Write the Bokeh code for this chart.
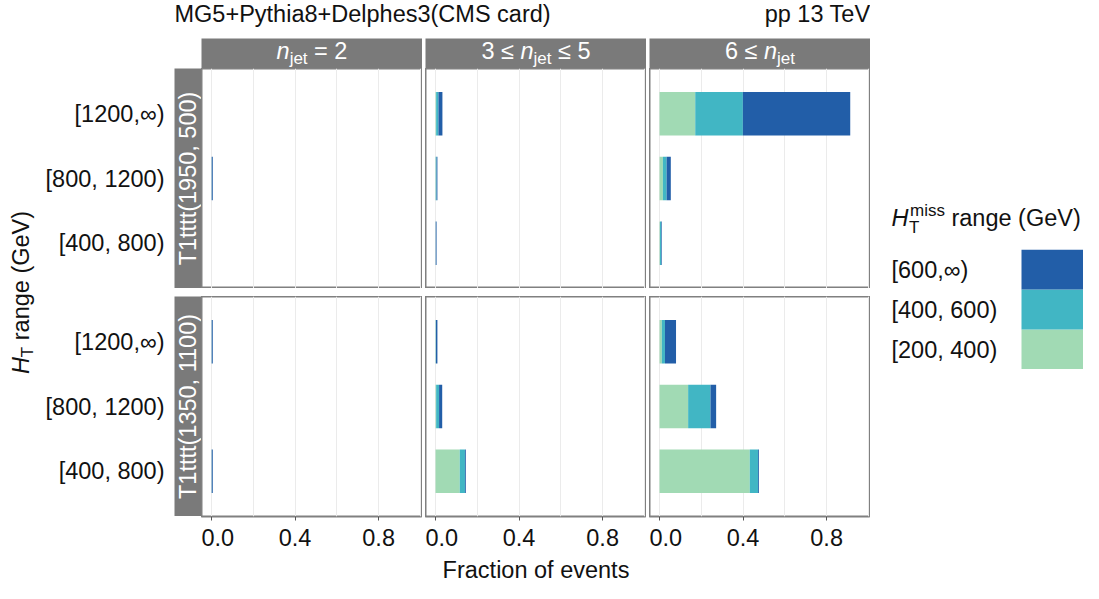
import math
from bokeh.plotting import figure
from bokeh.layouts import row, column
from bokeh.models import (FactorRange, Range1d, FixedTicker, Label, Spacer,
                          ColumnDataSource, NumeralTickFormatter)
from bokeh.core.properties import value
from bokeh.embed import file_html
from bokeh.resources import INLINE

# ---------------- data ----------------
ht_bins = ["[400, 800)", "[800, 1200)", "[1200,∞)"]          # y categories (bottom -> top)
mht_bins = ["[200, 400)", "[400, 600)", "[600,∞)"]           # stacked series
mht_colors = ["#A1DAB4", "#41B6C4", "#225EA8"]
models = ["T1tttt(1950, 500)", "T1tttt(1350, 1100)"]
njet_strips = [
    [("n", "ital"), ("jet", "sub"), (" = 2", "norm")],
    [("3 ≤ ", "norm"), ("n", "ital"), ("jet", "sub"), (" ≤ 5", "norm")],
    [("6 ≤ ", "norm"), ("n", "ital"), ("jet", "sub")],
]
x_ticks = [0.0, 0.4, 0.8]
x_minor = [0.2, 0.6, 1.0]

# fraction of events; rows = HTmiss bins (mht_bins), cols = HT bins (ht_bins)
m1950_nj2 = [[0.0, 0.0005, 0.0], [0.0, 0.0005, 0.0], [0.0, 0.005, 0.0]]
m1950_nj35 = [[0.0005, 0.001, 0.003], [0.0005, 0.004, 0.011], [0.004, 0.004, 0.019]]
m1950_nj6 = [[0.002, 0.016, 0.171], [0.006, 0.018, 0.228], [0.003, 0.020, 0.514]]
m1350_nj2 = [[0.0005, 0.0, 0.0005], [0.0005, 0.0, 0.0005], [0.005, 0.0, 0.005]]
m1350_nj35 = [[0.116, 0.003, 0.001], [0.025, 0.014, 0.001], [0.004, 0.015, 0.007]]
m1350_nj6 = [[0.432, 0.137, 0.011], [0.040, 0.107, 0.015], [0.004, 0.027, 0.053]]

fractions = [[m1950_nj2, m1950_nj35, m1950_nj6],
             [m1350_nj2, m1350_nj35, m1350_nj6]]

# ---------------- style / layout constants ----------------
FONT = "Liberation Sans"
FS = 23.5
FS_SUB = 17
MID = 0.3465               # baseline offset of a "middle"-anchored text, in em
TXT = "#111111"
STRIP_FILL = "#7A7A7A"
BORDER = "#808080"
GRID = "#EBEBEB"
PW, PH = 221, 220          # panel frame size
GAP = 3                    # gap between panels
ROWGAP = 8
SH = 30                    # strip height
HEAD_H = 38
AXW = 137                  # space for y tick labels
RSW = 27                   # row strip width
YT_W = 37
XAX_H = 40                 # room below the bottom panels for the tick labels
XT_H = 27
BAR_H = 0.67
X_RANGE = (-0.048, 1.01)

CW = {' ': 278, '.': 278, ',': 278, '(': 333, ')': 333, '[': 278, ']': 278,
      '+': 584, '=': 584, '≤': 549, '∞': 713, 'C': 722, 'D': 722, 'F': 611,
      'G': 778, 'H': 722, 'M': 833, 'P': 667, 'S': 667, 'T': 611, 'V': 667,
      'a': 556, 'c': 500, 'd': 556, 'e': 556, 'f': 278, 'g': 556, 'h': 556,
      'i': 222, 'j': 222, 'l': 222, 'm': 833, 'n': 556, 'o': 556, 'p': 556,
      'r': 333, 's': 500, 't': 278, 'v': 500, 'y': 500}


def tw(s, size):
    return sum(CW.get(c, 556) for c in s) * size / 1000.0


def psize(style):
    return FS_SUB if style in ("sub", "sup") else FS


def blank_fig(w, h, fill="white"):
    f = figure(width=w, height=h, x_range=Range1d(0, w), y_range=Range1d(0, h),
               x_axis_location=None, y_axis_location=None, min_border=0,
               toolbar_location=None, output_backend="svg",
               background_fill_color=fill, border_fill_color="white",
               outline_line_color=None)
    f.grid.visible = False
    return f


def lab(f, x, y, text, size=FS, style="normal", color=TXT, align="left", angle=0.0):
    """Place text so that its alphabetic baseline sits at y (x for rotated text)."""
    if angle == 0.0:
        y = y + MID * size
    else:
        x = x - MID * size
    f.add_layout(Label(x=x, y=y, text=text, text_font=FONT,
                       text_font_size=f"{size}px", text_font_style=style,
                       text_color=color, text_align=align,
                       text_baseline="middle", angle=angle))


def draw_pieces(f, pieces, start, base, color, rotated=False, sub_shift=5, sup_shift=10):
    pos = start
    for t, s in pieces:
        size = psize(s)
        lead = len(t) - len(t.lstrip())
        txt = t.strip()
        off = tw(t[:lead], size)
        shift = -sub_shift if s == "sub" else (sup_shift if s == "sup" else 0)
        style = "italic" if s == "ital" else "normal"
        if rotated:
            lab(f, base - shift, pos + off, txt, size, style, color, angle=math.pi / 2)
        else:
            lab(f, pos + off, base + shift, txt, size, style, color)
        pos += tw(t, size)
    return pos


MW = AXW + RSW + 3 * PW + 2 * GAP
LW = YT_W + MW

# ---------------- header ----------------
header = blank_fig(LW, HEAD_H)
lab(header, YT_W + AXW, HEAD_H - 22, "MG5+Pythia8+Delphes3(CMS card)")
lab(header, LW, HEAD_H - 22, "pp 13 TeV", align="right")

# ---------------- column strips ----------------
strip_children = [Spacer(width=AXW + RSW, height=SH)]
for j, pieces in enumerate(njet_strips):
    sf = blank_fig(PW, SH, STRIP_FILL)
    total = sum(tw(t, psize(s)) for t, s in pieces)
    draw_pieces(sf, pieces, PW / 2 - total / 2, 9, "white")
    if j > 0:
        strip_children.append(Spacer(width=GAP, height=SH))
    strip_children.append(sf)
strip_row = row(*strip_children)

# ---------------- panels ----------------
panel_rows = []
for i, model in enumerate(models):
    yr = FactorRange(factors=ht_bins, range_padding=0.2, range_padding_units="absolute")
    bottom = (i == len(models) - 1)

    ax = figure(frame_width=RSW, frame_height=PH, x_range=Range1d(0, 1), y_range=yr,
                x_axis_location=None, y_axis_location="left",
                min_border=0, min_border_left=AXW, toolbar_location=None,
                output_backend="svg", background_fill_color=STRIP_FILL,
                border_fill_color="white", outline_line_color=None)
    ax.grid.visible = False
    ax.yaxis.axis_line_color = None
    ax.yaxis.major_tick_line_color = None
    ax.yaxis.minor_tick_line_color = None
    ax.yaxis.major_tick_out = 0
    ax.yaxis.major_label_standoff = 10
    ax.yaxis.major_label_text_font = FONT
    ax.yaxis.major_label_text_font_size = f"{FS}px"
    ax.yaxis.major_label_text_color = TXT
    ax.add_layout(Label(x=0.5, y=PH / 2, x_units="data", y_units="screen",
                        text=model, text_font=FONT, text_font_size=f"{FS}px",
                        text_color="white", text_align="center",
                        text_baseline="middle", angle=math.pi / 2))
    children = [ax]
    for j in range(3):
        vals = fractions[i][j]
        data = {"ht": ht_bins}
        for k, m in enumerate(mht_bins):
            data[m] = vals[k]
        src = ColumnDataSource(data)
        p = figure(frame_width=PW, frame_height=PH, x_range=Range1d(*X_RANGE),
                   y_range=yr, x_axis_location="below" if bottom else None,
                   y_axis_location=None, min_border=0,
                   min_border_bottom=XAX_H if bottom else 0,
                   toolbar_location=None,
                   output_backend="svg", background_fill_color="white",
                   border_fill_color="white", outline_line_color=BORDER,
                   outline_line_width=2)
        p.hbar_stack(mht_bins, y="ht", height=BAR_H, fill_color=mht_colors,
                     line_color=None, source=src)
        tick = FixedTicker(ticks=x_ticks, minor_ticks=x_minor)
        p.xgrid.ticker = tick
        p.xgrid.grid_line_color = GRID
        p.xgrid.grid_line_width = 1
        p.xgrid.minor_grid_line_color = GRID
        p.xgrid.minor_grid_line_width = 1
        p.ygrid.visible = False
        if bottom:
            p.xaxis.ticker = tick
            p.xaxis.formatter = NumeralTickFormatter(format="0.0")
            p.xaxis.axis_line_color = None
            p.xaxis.major_tick_line_color = "#555555"
            p.xaxis.minor_tick_line_color = None
            p.xaxis.major_tick_in = 0
            p.xaxis.major_tick_out = 4
            p.xaxis.major_label_standoff = 8
            p.xaxis.major_label_text_font = FONT
            p.xaxis.major_label_text_font_size = f"{FS}px"
            p.xaxis.major_label_text_color = TXT
        if j > 0:
            children.append(Spacer(width=GAP, height=PH))
        children.append(p)
    panel_rows.append(row(*children))

# ---------------- axis titles ----------------
xtitle = blank_fig(MW, XT_H)
lab(xtitle, AXW + RSW + (3 * PW + 2 * GAP) / 2, XT_H / 2 - MID * FS,
    "Fraction of events", align="center")

YT_H = SH + PH + ROWGAP + PH
ytitle = blank_fig(YT_W, YT_H)
ypieces = [("H", "ital"), ("T", "sub"), (" range (GeV)", "norm")]
ytot = sum(tw(t, psize(s)) for t, s in ypieces)
draw_pieces(ytitle, ypieces, (PH + ROWGAP + PH) / 2 - ytot / 2, 29, TXT,
            rotated=True, sub_shift=4)

main_col = column(strip_row, panel_rows[0], Spacer(height=ROWGAP, width=MW),
                  panel_rows[1], xtitle)
body = row(ytitle, main_col)
left_block = column(header, body)

# ---------------- legend ----------------
LEG_W = 1083 - LW
KEY_LEFT, KEY_RIGHT, LABEL_X = LEG_W - 62, LEG_W, 21
LT_H = 61
LT_BASE = 23
leg_title = blank_fig(LEG_W, LT_H)
hx = LABEL_X + tw("H", FS)
lab(leg_title, LABEL_X, LT_BASE, "H", style="italic")
lab(leg_title, hx + 0.5, LT_BASE - 7, "T", size=FS_SUB)
lab(leg_title, hx + 1.5, LT_BASE + 10, "miss", size=FS_SUB)
lab(leg_title, hx + 1.5 + tw("miss", FS_SUB) + tw(" ", FS), LT_BASE, "range (GeV)")

leg_src = ColumnDataSource({"mht": mht_bins, "color": mht_colors})
leg = figure(frame_width=LEG_W, frame_height=120, x_range=Range1d(0, LEG_W),
             y_range=FactorRange(factors=mht_bins), x_axis_location=None,
             y_axis_location=None, min_border=0, toolbar_location=None,
             output_backend="svg", outline_line_color=None,
             border_fill_color="white", background_fill_color="white")
leg.grid.visible = False
leg.hbar(y="mht", left=KEY_LEFT, right=KEY_RIGHT, height=1.0, fill_color="color",
         line_color=None, source=leg_src)
leg.text(x=LABEL_X, y="mht", text="mht", source=leg_src, text_font=value(FONT),
         text_font_size=f"{FS}px", text_color=TXT, text_baseline="middle",
         text_align="left")
legend_col = column(Spacer(height=188, width=LEG_W), leg_title, leg)

layout = row(left_block, legend_col)

open("out.html", "w").write(file_html(layout, INLINE))
